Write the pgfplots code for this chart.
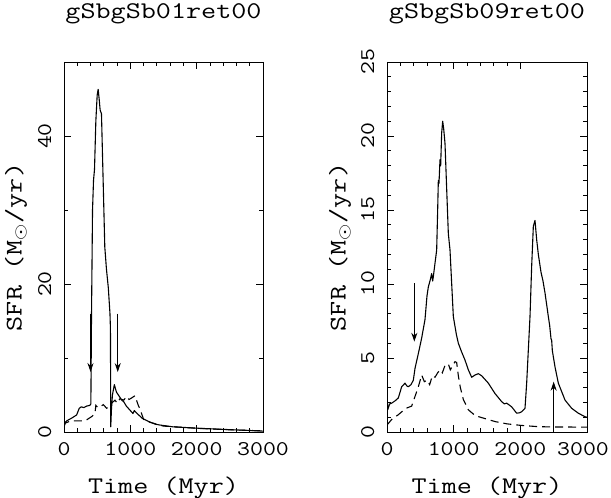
\documentclass[border=0pt]{standalone}
\usepackage{graphicx}
\usepackage{pgfplots}
\pgfplotsset{compat=1.18}
\usetikzlibrary{arrows.meta}
\newcommand\T[1]{\scalebox{2.45}[2.0]{\fontsize{12}{14}\selectfont\ttfamily #1}}
\newcommand\TT[1]{\scalebox{2.1}[1.75]{\fontsize{12}{14}\selectfont\ttfamily #1}}
\pgfplotsset{
  sfrax/.style={
    scale only axis, anchor=south west,
    height=370bp,
    xmin=0, xmax=3000,
    xtick={0,1000,2000,3000}, minor x tick num=4,
    tick align=inside, xtick pos=both, ytick pos=both,
    major tick length=7bp, minor tick length=4bp,
    axis line style={line width=0.9bp},
    every tick/.style={line width=0.8bp, black},
    every minor tick/.style={line width=0.8bp, black},
    /pgf/number format/assume math mode=true,
    /pgf/number format/1000 sep={},
    xticklabel={\TT{\pgfmathprintnumber{\tick}}},
    yticklabel={\TT{\pgfmathprintnumber{\tick}}},
    yticklabel style={rotate=90, anchor=south},
    xticklabel shift=7bp, yticklabel shift=9bp,
    title style={at={(axis description cs:0.5,1)}, anchor=center, yshift=42bp},
    xlabel style={at={(axis description cs:0.5,0)}, anchor=center, yshift=-56bp},
    xlabel={\T{Time (Myr)}},
    ylabel={\T{SFR (M$_\odot$/yr)}},
  },
  sol/.style={black, line width=1.1bp, line join=round},
  dsh/.style={black, line width=1.1bp, dash pattern=on 8bp off 5bp},
  arr/.style={black, line width=1bp, -{Stealth[length=9bp,width=6bp]}},
}
\begin{document}
\begin{tikzpicture}
\useasboundingbox (0,0) rectangle (611bp,498bp);
\begin{axis}[sfrax, at={(64bp,66bp)}, width=199bp,
  ymin=0, ymax=50, ytick={0,20,40}, minor y tick num=1,
  title={\T{gSbgSb01ret00}},
  ylabel style={at={(axis description cs:-0.241,0.5)}, anchor=center}]
\addplot[sol] coordinates {
(0,2.7) (8,1.2) (40,1.5) (120,1.9) (190,2.3) (230,3.2) (260,3.4) (300,3.3)
(340,3.5) (390,3.6) (405,3.8) (415,16) (430,30) (445,34) (460,35.5) (480,42)
(500,45.5) (515,46.3) (530,45) (545,43.5) (565,43) (590,34) (615,25) (640,22)
(668,19.5) (693,16) (700,14) (705,0.7) (715,3) (730,5) (759,6.4) (790,5.4)
(835,4.8) (870,4.3) (900,4.1) (940,3.5) (970,3.2) (1040,2.5) (1060,2.9)
(1090,2.6) (1180,1.85) (1280,1.4) (1380,1.05) (1440,0.95) (1640,0.7)
(2040,0.5) (2540,0.3) (2940,0.15) (3000,0.12)
};
\addplot[dsh] coordinates {
(0,0.7) (20,1.2) (100,1.5) (215,1.5) (317,1.5) (420,2.1) (467,2.5) (480,3.6)
(510,3.3) (543,3.4) (593,3.7) (643,3.2) (693,3.6) (730,4.0) (769,4.3) (800,3.9)
(844,4.5) (900,4.3) (945,4.8) (980,4.4) (1020,4.6) (1070,4.9) (1120,3.6)
(1150,3.0) (1200,1.7) (1300,1.3) (1500,0.8) (2000,0.5) (2500,0.3) (3000,0.15)
};
\addplot[arr] coordinates {(400,16) (400,8.1)};
\addplot[arr] coordinates {(810,16) (810,8.1)};
\end{axis}
\begin{axis}[sfrax, at={(387bp,66bp)}, width=200bp,
  ymin=0, ymax=25, ytick={0,5,10,15,20,25}, minor y tick num=4,
  xtick={0,1000,2000}, extra x ticks={3000},
  extra x tick style={xticklabel style={xshift=-4bp}},
  title={\T{gSbgSb09ret00}},
  ylabel style={at={(axis description cs:-0.235,0.5)}, anchor=center}]
\addplot[sol] coordinates {
(0,2.84) (10,1.5) (40,1.9) (70,1.95) (120,2.1) (170,2.3) (220,3.06) (250,3.2)
(270,3.3) (300,3.1) (320,3.06) (360,3.2) (395,3.5) (420,4.3) (470,5.3)
(520,6.35) (570,7.6) (600,9.2) (620,9.8) (650,10.3) (670,10.7) (685,10.2)
(695,10.5) (720,11.4) (745,12.3) (760,15) (770,17) (780,16.8) (795,18.4)
(805,18.0) (820,20.2) (835,21.0) (850,20.5) (870,19.5) (920,13.4) (945,12.3)
(995,7.8) (1040,6.6) (1070,6.0) (1120,5.4) (1170,4.86) (1220,4.2) (1270,3.7)
(1320,3.85) (1370,3.94) (1420,3.8) (1520,3.3) (1620,2.6) (1720,2.05)
(1760,1.9) (1795,1.95) (1870,1.7) (1945,1.27) (1990,1.3) (2020,1.37)
(2070,1.6) (2095,3.3) (2145,7.8) (2170,11.2) (2195,13.9) (2220,14.3)
(2245,13.0) (2270,12.0) (2310,10.8) (2340,10.2) (2370,9.4) (2420,7.8)
(2440,7.2) (2460,6.3) (2470,6.2) (2480,5.5) (2520,4.4) (2570,3.3)
(2670,2.16) (2770,1.6) (2870,1.27) (2970,1.03) (3000,1.0)
};
\addplot[dsh] coordinates {
(0,0.47) (80,0.9) (165,1.15) (230,1.4) (285,1.6) (370,1.75) (420,2.4)
(470,3.06) (520,3.85) (560,3.4) (600,3.5) (640,3.2) (680,3.8) (720,3.7)
(760,4.0) (795,4.2) (830,4.0) (870,4.5) (920,4.6) (950,4.2) (985,4.5)
(1020,4.75) (1045,4.7) (1070,3.8) (1100,3.0) (1145,2.2) (1220,1.5)
(1325,1.1) (1475,0.9) (1625,0.7) (1800,0.55) (2000,0.45) (2270,0.36)
(2500,0.34) (3000,0.33)
};
\addplot[arr] coordinates {(410,10.05) (410,6.1)};
\addplot[arr] coordinates {(2500,0) (2500,3.4)};
\end{axis}
\end{tikzpicture}
\end{document}
